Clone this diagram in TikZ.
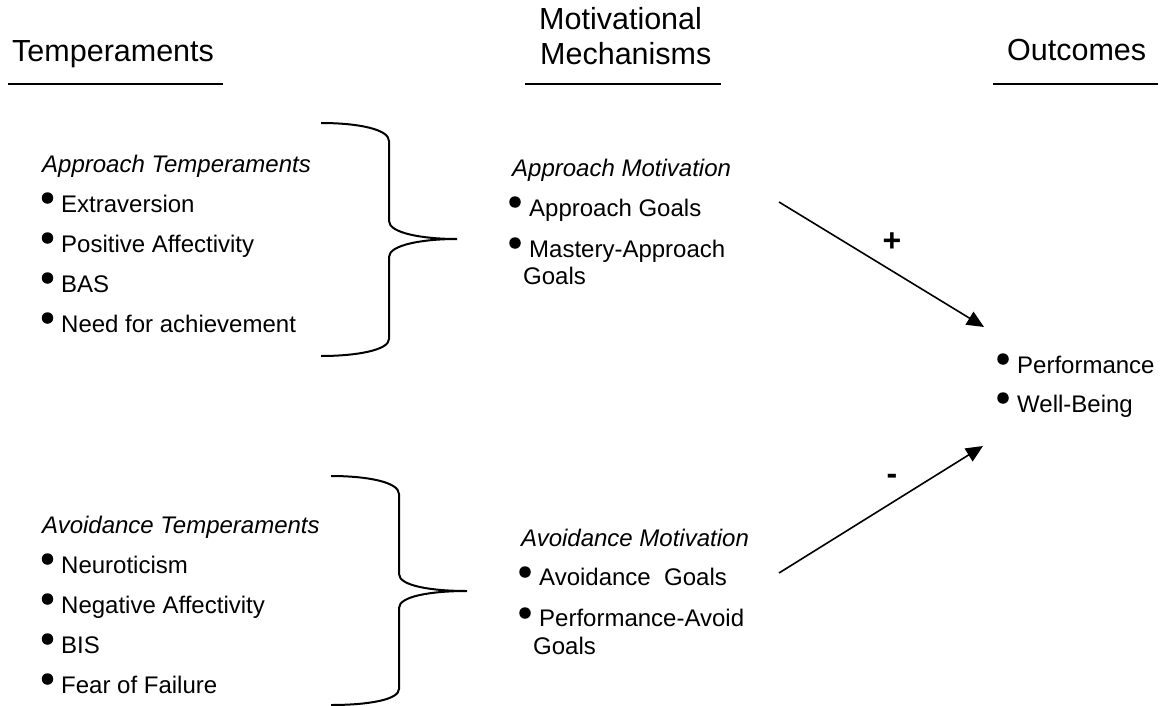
\documentclass[tikz,border=0pt]{standalone}
\usepackage{fontspec}
\setmainfont{Liberation Sans}
\usetikzlibrary{arrows.meta}
\tikzset{
  tx/.style={font=\fontsize{24}{28}\selectfont, anchor=base west, inner sep=0pt},
  itx/.style={font=\fontsize{24}{28}\selectfont\itshape, anchor=base west, inner sep=0pt},
  hd/.style={font=\fontsize{30.5}{34}\selectfont, anchor=base west, inner sep=0pt},
  sgn/.style={font=\fontsize{32}{34}\selectfont\bfseries, inner sep=0pt},
  bul/.style={circle, fill=black, inner sep=0pt, minimum size=11.5pt},
  rule/.style={line width=1.6pt},
  brace/.style={line width=2pt},
  arr/.style={line width=1.6pt, -{Triangle[length=17pt,width=15pt]}}
}
\begin{document}
\begin{tikzpicture}[x=1pt,y=-1pt]
\useasboundingbox (0,0) rectangle (1161,706);
% headings
\node[hd] (h1) at (12,62) {Temperaments};
\node[hd] (h2a) at (539,30) {Motivational};
\node[hd] (h2b) at (540,65) {Mechanisms};
\node[hd] (h3) at (1007,61) {Outcomes};
\coordinate (u1a) at (8,84); \coordinate (u1b) at (223,84);
\coordinate (u2a) at (525,84); \coordinate (u2b) at (721,84);
\coordinate (u3a) at (993,84); \coordinate (u3b) at (1158,84);
\draw[rule] (u1a) -- (u1b);
\draw[rule] (u2a) -- (u2b);
\draw[rule] (u3a) -- (u3b);
% approach temperaments
\node[itx] (at) at (42,172) {Approach Temperaments};
\node[bul] (b1) at (47.5,198) {};
\node[tx] (t1) at (61,212) {Extraversion};
\node[bul] (b2) at (47.5,238) {};
\node[tx] (t2) at (61,252) {Positive Affectivity};
\node[bul] (b3) at (47.5,278) {};
\node[tx] (t3) at (61,292) {BAS};
\node[bul] (b4) at (47.5,318) {};
\node[tx] (t4) at (61,332) {Need for achievement};
% avoidance temperaments
\node[itx] (av) at (42,533) {Avoidance Temperaments};
\node[bul] (c1) at (47.5,559) {};
\node[tx] (s1) at (61,573) {Neuroticism};
\node[bul] (c2) at (47.5,599) {};
\node[tx] (s2) at (61,613) {Negative Affectivity};
\node[bul] (c3) at (47.5,639) {};
\node[tx] (s3) at (61,653) {BIS};
\node[bul] (c4) at (47.5,679) {};
\node[tx] (s4) at (61,693) {Fear of Failure};
% braces
\draw[brace] (321,123) .. controls (357,123) and (389,129) .. (389,141) -- (389,221)
  .. controls (389,233) and (422,239) .. (457,239)
  .. controls (422,239) and (389,245) .. (389,257) -- (389,339)
  .. controls (389,350) and (357,356) .. (321,356);
\draw[brace] (331,476) .. controls (367,476) and (399,482) .. (399,494) -- (399,574)
  .. controls (399,586) and (432,591) .. (467,591)
  .. controls (432,591) and (399,596) .. (399,608) -- (399,689)
  .. controls (399,700) and (367,705) .. (331,705);
% approach motivation
\node[itx] (am) at (512,176) {Approach Motivation};
\node[bul] (d1) at (515,202) {};
\node[tx] (m1) at (529,216) {Approach Goals};
\node[bul] (d2) at (515,243) {};
\node[tx] (m2) at (529,257) {Mastery-Approach};
\node[tx] (m3) at (523,284) {Goals};
% avoidance motivation
\node[itx] (vm) at (521,546) {Avoidance Motivation};
\node[bul] (e1) at (525,572) {};
\node[tx] (n1) at (539,585) {Avoidance\ \ Goals};
\node[bul] (e2) at (525,613) {};
\node[tx] (n2) at (539,626) {Performance-Avoid};
\node[tx] (n3) at (533,654) {Goals};
% outcomes
\node[bul] (f1) at (1003,359) {};
\node[tx] (o1) at (1017,373) {Performance};
\node[bul] (f2) at (1003,398) {};
\node[tx] (o2) at (1017,412) {Well-Being};
% arrows
\coordinate (apS) at (779,202); \coordinate (apE) at (984,327);
\coordinate (avS) at (779,573); \coordinate (avE) at (983,446);
\draw[arr] (apS) -- (apE);
\draw[arr] (avS) -- (avE);
\node[sgn] (plus) at (892,242) {+};
\node[sgn] (minus) at (892,479) {-};
\end{tikzpicture}
\end{document}
